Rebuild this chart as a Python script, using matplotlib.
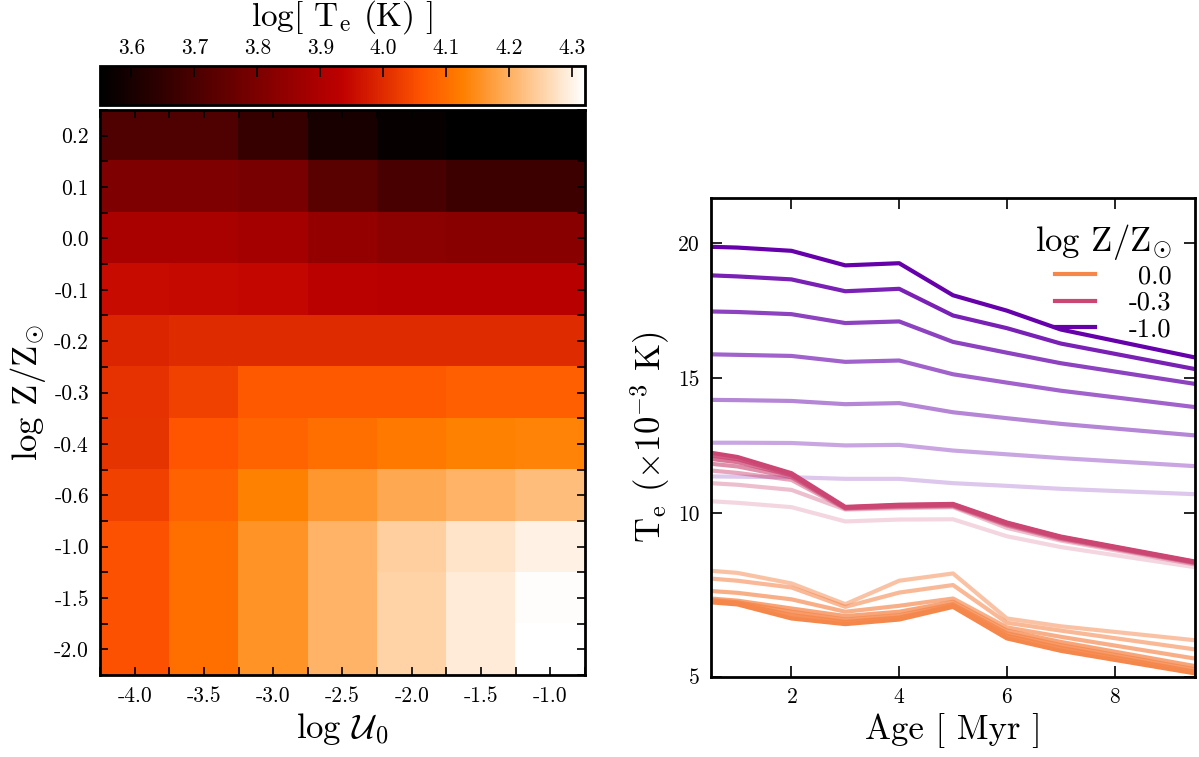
import numpy as np
import matplotlib
matplotlib.use('Agg')
import matplotlib.pyplot as plt
from matplotlib.lines import Line2D

plt.rcParams['font.family'] = 'serif'
plt.rcParams['font.serif'] = ['cmr10']
plt.rcParams['mathtext.fontset'] = 'cm'
plt.rcParams['axes.unicode_minus'] = False
plt.rcParams['axes.formatter.use_mathtext'] = True

# model grid: metallicity rows (top -> bottom) x ionisation parameter columns
logZ_rows = ['0.2', '0.1', '0.0', '-0.1', '-0.2', '-0.3', '-0.4', '-0.6', '-1.0', '-1.5', '-2.0']
logU_cols = ['-4.0', '-3.5', '-3.0', '-2.5', '-2.0', '-1.5', '-1.0']

logTe = np.array([
    [3.710, 3.710, 3.661, 3.600, 3.566, 3.550, 3.550],
    [3.808, 3.808, 3.792, 3.731, 3.699, 3.675, 3.675],
    [3.892, 3.892, 3.882, 3.848, 3.832, 3.824, 3.824],
    [3.953, 3.950, 3.945, 3.927, 3.920, 3.920, 3.920],
    [3.990, 4.000, 4.000, 4.000, 4.000, 4.000, 4.000],
    [4.012, 4.033, 4.068, 4.068, 4.070, 4.078, 4.078],
    [4.015, 4.063, 4.086, 4.101, 4.116, 4.128, 4.132],
    [4.033, 4.083, 4.128, 4.163, 4.190, 4.205, 4.220],
    [4.056, 4.101, 4.155, 4.205, 4.245, 4.278, 4.297],
    [4.056, 4.103, 4.155, 4.205, 4.252, 4.289, 4.316],
    [4.056, 4.103, 4.155, 4.205, 4.252, 4.289, 4.320],
])

# Te (10^3 K) vs age, one curve per log U (-4.0 ... -1.0)
ages = [0.5, 1, 2, 3, 4, 5, 6, 7, 9.5]

te_z00 = [
    [7.85, 7.77, 7.38, 6.61, 7.48, 7.75, 6.08, 5.79, 5.27],
    [7.56, 7.48, 7.23, 6.51, 7.04, 7.32, 5.92, 5.63, 4.93],
    [7.10, 7.03, 6.79, 6.33, 6.55, 6.82, 5.75, 5.40, 4.59],
    [6.82, 6.74, 6.45, 6.17, 6.33, 6.70, 5.63, 5.21, 4.31],
    [6.76, 6.68, 6.33, 6.04, 6.20, 6.61, 5.53, 5.09, 4.19],
    [6.72, 6.64, 6.20, 5.95, 6.11, 6.55, 5.44, 4.99, 4.10],
    [6.68, 6.60, 6.08, 5.87, 6.04, 6.51, 5.34, 4.88, 4.04],
]

te_z03 = [
    [10.43, 10.37, 10.21, 9.68, 9.75, 9.76, 9.13, 8.73, 7.98],
    [11.10, 11.04, 10.85, 10.12, 10.17, 10.21, 9.44, 8.97, 8.08],
    [11.57, 11.48, 11.22, 10.15, 10.21, 10.24, 9.53, 9.02, 8.12],
    [11.82, 11.72, 11.32, 10.17, 10.24, 10.27, 9.57, 9.06, 8.14],
    [12.00, 11.88, 11.39, 10.19, 10.26, 10.29, 9.60, 9.08, 8.16],
    [12.13, 11.99, 11.42, 10.20, 10.28, 10.31, 9.62, 9.10, 8.17],
    [12.23, 12.07, 11.47, 10.22, 10.30, 10.33, 9.64, 9.12, 8.19],
]

te_z10 = [
    [11.35, 11.34, 11.32, 11.26, 11.26, 11.10, 11.00, 10.89, 10.69],
    [12.60, 12.60, 12.59, 12.50, 12.52, 12.31, 12.17, 12.03, 11.73],
    [14.19, 14.18, 14.15, 14.03, 14.07, 13.73, 13.51, 13.30, 12.87],
    [15.88, 15.86, 15.82, 15.60, 15.65, 15.14, 14.83, 14.53, 13.92],
    [17.47, 17.45, 17.37, 17.04, 17.10, 16.34, 15.94, 15.55, 14.78],
    [18.81, 18.77, 18.66, 18.22, 18.31, 17.32, 16.85, 16.28, 15.33],
    [19.87, 19.84, 19.72, 19.18, 19.26, 18.07, 17.50, 16.80, 15.76],
]

families = [('0.0', '#f5874b', te_z00, 0.5),
            ('-0.3', '#cc4674', te_z03, 0.22),
            ('-1.0', '#6600aa', te_z10, 0.22)]

fig = plt.figure(figsize=(11.99, 7.57), dpi=100)
ax1 = fig.add_axes([0.0834, 0.1083, 0.4045, 0.7464])
cax = fig.add_axes([0.0834, 0.8613, 0.4045, 0.0515])
ax2 = fig.add_axes([0.5927, 0.1061, 0.4043, 0.632])

# --- left: log Te over the (U, Z) grid
im = ax1.imshow(logTe, cmap='gist_heat', vmin=3.55, vmax=4.32,
                aspect='auto', interpolation='nearest')
ax1.set_xticks(range(len(logU_cols)))
ax1.set_xticklabels(logU_cols)
ax1.set_yticks(range(len(logZ_rows)))
ax1.set_yticklabels(logZ_rows)
ax1.set_xticks(np.arange(-0.5, len(logU_cols)), minor=True)
ax1.set_yticks(np.arange(-0.5, len(logZ_rows)), minor=True)
ax1.tick_params(which='both', direction='in', top=True, right=True,
                length=6, width=1.2, labelsize=15.5, pad=8)
for s in ax1.spines.values():
    s.set_linewidth(2)
ax1.set_xlabel(r'log $\mathcal{U}_0$', fontsize=25)
ax1.set_ylabel(r'log Z/Z$_{\odot}$', fontsize=25)

cb = fig.colorbar(im, cax=cax, orientation='horizontal')
cb.set_ticks(np.arange(3.6, 4.31, 0.1))
cb.set_ticklabels(['3.6', '3.7', '3.8', '3.9', '4.0', '4.1', '4.2', '4.3'])
cax.xaxis.set_ticks_position('top')
cax.xaxis.set_label_position('top')
cax.tick_params(direction='in', length=8, width=1.2, labelsize=15.5, pad=6)
cb.outline.set_linewidth(2)
cb.set_label(r'log[ T$_{\rm e}$ (K) ]', fontsize=24, labelpad=9)

# --- right: Te evolution with age
handles = []
for lab, color, curves, a0 in families[::-1]:
    for te, a in zip(curves, np.linspace(a0, 1.0, len(curves))):
        ax2.plot(ages, te, color=color, alpha=a, lw=3)
for lab, color, curves, a0 in families:
    handles.append(Line2D([], [], color=color, lw=3, label=lab))

ymin = 3.92
ax2.set_xlim(0.5, 9.5)
ax2.set_ylim(ymin, 21.67)
ax2.set_xticks([2, 4, 6, 8])
ax2.set_yticks([ymin, 10, 15, 20])
ax2.set_yticklabels(['5', '10', '15', '20'])
ax2.tick_params(direction='in', top=True, right=True, length=8, width=1.2,
                labelsize=15.5, pad=8)
for s in ax2.spines.values():
    s.set_linewidth(2)
ax2.set_xlabel('Age [ Myr ]', fontsize=25)
ax2.set_ylabel(r'T$_{\rm e}$ ($\times 10^{-3}$ K)', fontsize=25)

leg = ax2.legend(handles=handles, loc='upper right', frameon=False,
                 title=r'log Z/Z$_{\odot}$', title_fontsize=25,
                 fontsize=19, handlelength=1.5, handletextpad=1.3,
                 labelspacing=0.1, borderaxespad=0.5)
leg._legend_box.align = 'right'
# right-align the metallicity labels
fig.canvas.draw()
renderer = fig.canvas.get_renderer()
widths = [t.get_window_extent(renderer).width for t in leg.get_texts()]
for t, w in zip(leg.get_texts(), widths):
    t.set_position((max(widths) - w, 0))

fig.savefig('out.png', dpi=100)
